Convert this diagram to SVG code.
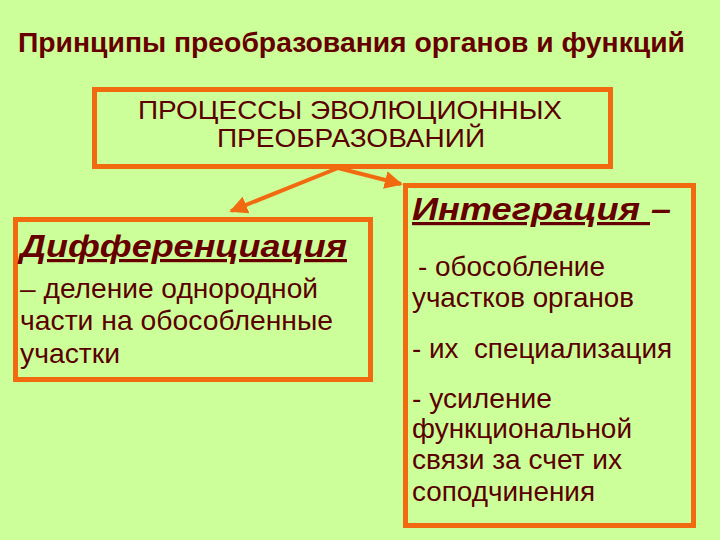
<svg xmlns="http://www.w3.org/2000/svg" width="720" height="540" viewBox="0 0 720 540">
<defs>
<style>
.box{fill:none;stroke:#F26A10;stroke-width:5}
.t{font-family:"Liberation Sans",Arial,sans-serif;fill:#5A0000}
.title{font-size:28px;font-weight:bold;fill:#660000}
.hdr{font-size:25px}
.head{font-size:32px;font-weight:bold;font-style:italic;fill:#660000}
.u{text-decoration:underline}
.body{font-size:28px}
.conn{stroke:#F26A10;stroke-width:4;fill:none}
</style>
<marker id="ah" viewBox="0 0 10 10" refX="9" refY="5" markerWidth="4.5" markerHeight="4.5" orient="auto" markerUnits="strokeWidth">
<path d="M0,0 L10,5 L0,10 z" fill="#F26A10"/>
</marker>
</defs>
<rect width="720" height="540" fill="#CCFF99"/>
<text class="t title" x="18" y="52" textLength="667" lengthAdjust="spacingAndGlyphs">Принципы преобразования органов и функций</text>
<g id="connectors">
<line class="conn" x1="338" y1="168" x2="231" y2="211" marker-end="url(#ah)"/>
<line class="conn" x1="338" y1="168" x2="401" y2="184" marker-end="url(#ah)"/>
</g>
<g id="node-processes">
<rect class="box" x="94.5" y="89.5" width="516" height="77"/>
<text class="t hdr" x="138" y="119" textLength="424" lengthAdjust="spacingAndGlyphs">ПРОЦЕССЫ ЭВОЛЮЦИОННЫХ</text>
<text class="t hdr" x="217" y="147" textLength="268" lengthAdjust="spacingAndGlyphs">ПРЕОБРАЗОВАНИЙ</text>
</g>
<g id="node-differentiation">
<rect class="box" x="15.5" y="219.5" width="355" height="160"/>
<text class="t head u" x="20" y="257" textLength="327" lengthAdjust="spacingAndGlyphs">Дифференциация</text>
<text class="t body" x="20" y="298" textLength="298" lengthAdjust="spacingAndGlyphs">– деление однородной</text>
<text class="t body" x="20" y="330" textLength="313" lengthAdjust="spacingAndGlyphs">части на обособленные</text>
<text class="t body" x="20" y="363" textLength="100" lengthAdjust="spacingAndGlyphs">участки</text>
</g>
<g id="node-integration">
<rect class="box" x="405.5" y="185.5" width="288" height="340"/>
<text class="t head u" x="412" y="220" textLength="238" lengthAdjust="spacingAndGlyphs" xml:space="preserve">Интеграция </text>
<text class="t head" x="651" y="220" textLength="20" lengthAdjust="spacingAndGlyphs">–</text>
<text class="t body" x="418" y="276" textLength="187" lengthAdjust="spacingAndGlyphs">- обособление</text>
<text class="t body" x="412" y="307" textLength="222" lengthAdjust="spacingAndGlyphs">участков органов</text>
<text class="t body" x="412" y="358" textLength="260" lengthAdjust="spacingAndGlyphs" xml:space="preserve">- их  специализация</text>
<text class="t body" x="412" y="408" textLength="140" lengthAdjust="spacingAndGlyphs">- усиление</text>
<text class="t body" x="412" y="438" textLength="220" lengthAdjust="spacingAndGlyphs">функциональной</text>
<text class="t body" x="412" y="469" textLength="210" lengthAdjust="spacingAndGlyphs">связи за счет их</text>
<text class="t body" x="412" y="501" textLength="183" lengthAdjust="spacingAndGlyphs">соподчинения</text>
</g>
</svg>
